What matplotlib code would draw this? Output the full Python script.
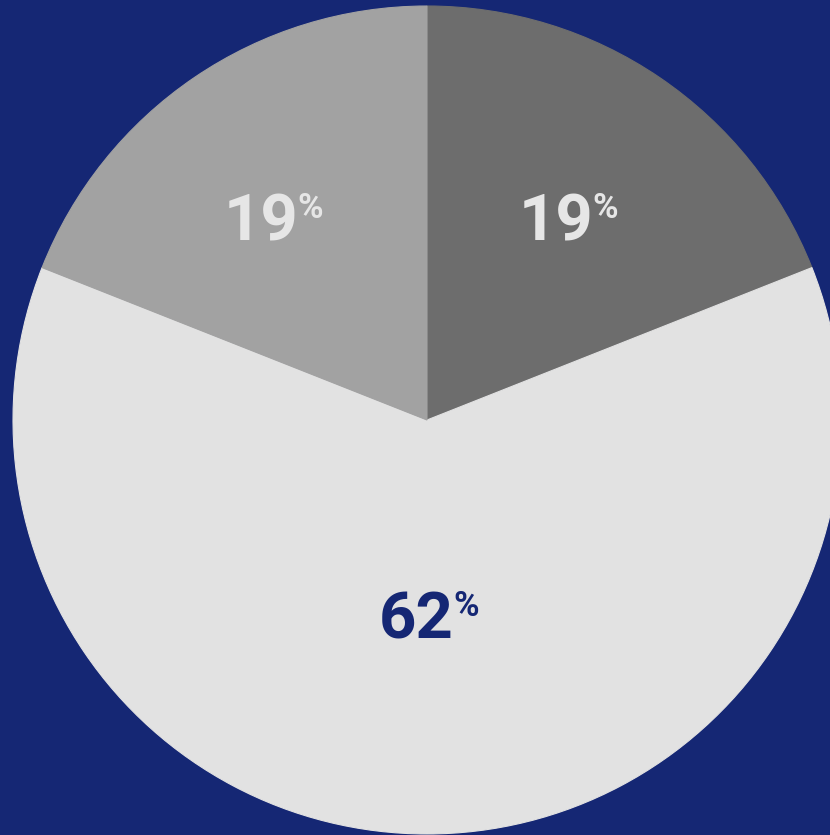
import numpy as np
import matplotlib.pyplot as plt

# slice values, clockwise from 12 o'clock
values = [19, 62, 19]
labels = ["19", "62", "19"]
slice_colors = ["#6d6d6d", "#e2e2e2", "#a2a2a2"]
text_colors = ["#e6e6e6", "#152774", "#e6e6e6"]
label_radius = [0.635, 0.47, 0.635]
label_nudge = [(0, -14), (8, 0), (0, -14)]   # pixels

BG = "#152774"
W, H = 830, 835
center = (427, H - 420)
R = 414

fig = plt.figure(figsize=(W / 100, H / 100), dpi=100, facecolor=BG)
ax = fig.add_axes([0, 0, 1, 1])
ax.set_facecolor(BG)

wedges, _ = ax.pie(values, colors=slice_colors, startangle=90, counterclock=False,
                   center=center, radius=R)
# hide the seams between slices
for w in wedges:
    w.set_edgecolor(w.get_facecolor())
    w.set_linewidth(0.8)

ax.set_xlim(0, W)
ax.set_ylim(0, H)
ax.set_aspect("equal")
ax.axis("off")

for w, lab, tc, rf, (nx, ny) in zip(wedges, labels, text_colors, label_radius, label_nudge):
    theta = np.deg2rad((w.theta1 + w.theta2) / 2)
    x = center[0] + rf * R * np.cos(theta)
    y = center[1] + rf * R * np.sin(theta)
    # the number
    ax.annotate(lab, (x, y), xytext=(19 + nx, -24 + ny), textcoords="offset pixels",
                ha="right", va="baseline", color=tc, fontsize=47,
                fontweight="bold", family="Roboto")
    # small raised percent sign
    ax.annotate("%", (x, y), xytext=(18 + nx, -1 + ny), textcoords="offset pixels",
                ha="left", va="baseline", color=tc, fontsize=25,
                fontweight="bold", family="Roboto")

fig.savefig("out.png", dpi=100, facecolor=BG)
